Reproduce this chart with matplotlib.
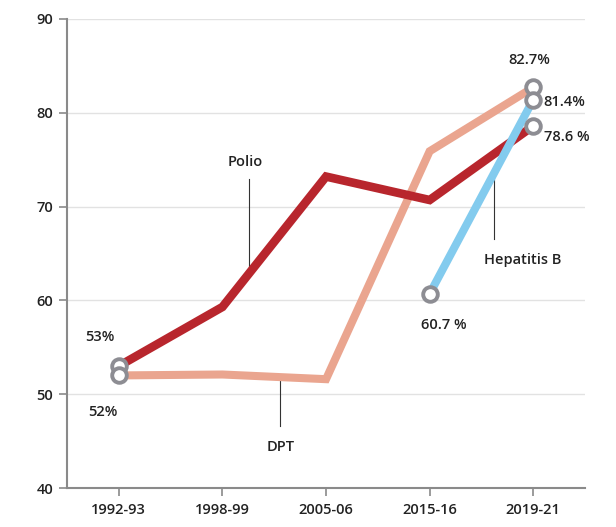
import matplotlib
matplotlib.use("Agg")
import matplotlib.pyplot as plt

# --- DATA ---
periods = ["1992-93", "1998-99", "2005-06", "2015-16", "2019-21"]
polio = [53.0, 59.3, 73.2, 70.7, 78.6]
dpt = [52.0, 52.1, 51.6, 75.9, 82.7]
hepb_periods = ["2015-16", "2019-21"]
hepb = [60.7, 81.4]

# --- STYLE ---
POLIO_COL = "#b8262d"
DPT_COL = "#eaa58f"
HEPB_COL = "#83cbee"
RING_COL = "#8d8d93"
TXT = "#222222"

plt.rcParams["font.family"] = ["Open Sans", "DejaVu Sans"]
plt.rcParams["font.weight"] = "semibold"

fig = plt.figure(figsize=(6.16, 5.27), dpi=100)
ax = fig.add_axes([0.1088, 0.074, 0.841, 0.890])

xpos = {p: i for i, p in enumerate(periods)}
x_all = [xpos[p] for p in periods]
x_hep = [xpos[p] for p in hepb_periods]

# lines
ax.plot(x_all, dpt, color=DPT_COL, lw=5.8, solid_joinstyle="miter", zorder=3)
ax.plot(x_all, polio, color=POLIO_COL, lw=6.2, solid_joinstyle="miter", zorder=4)
ax.plot(x_hep, hepb, color=HEPB_COL, lw=5.8, zorder=5)

# hollow end markers
ring = dict(marker="o", ms=10.5, mfc="white", mec=RING_COL, mew=2.8, ls="none", zorder=6)
ax.plot([x_all[0], x_all[0]], [polio[0], dpt[0]], **ring)
ax.plot([x_all[-1]] * 3, [dpt[-1], hepb[-1], polio[-1]], **ring)
ax.plot([x_hep[0]], [hepb[0]], **ring)

# value labels
fs = 10.5
ax.text(-0.18, 56.1, "53%", ha="center", va="center", fontsize=fs, color=TXT)
ax.text(-0.15, 48.1, "52%", ha="center", va="center", fontsize=fs, color=TXT)
ax.text(3.14, 57.4, "60.7 %", ha="center", va="center", fontsize=fs, color=TXT)
ax.text(3.96, 85.6, "82.7%", ha="center", va="center", fontsize=fs, color=TXT)
ax.text(4.1, 81.15, "81.4%", ha="left", va="center", fontsize=fs, color=TXT)
ax.text(4.1, 77.4, "78.6 %", ha="left", va="center", fontsize=fs, color=TXT)

# series labels with leader lines
lead = dict(color="#333333", lw=0.8, zorder=2)
ax.text(1.22, 74.8, "Polio", ha="center", va="center", fontsize=fs, color=TXT)
ax.plot([1.26, 1.26], [72.9, 63.1], **lead)
ax.text(1.56, 44.4, "DPT", ha="center", va="center", fontsize=fs, color=TXT)
ax.plot([1.56, 1.56], [46.6, 51.7], **lead)
ax.text(3.90, 64.3, "Hepatitis B", ha="center", va="center", fontsize=fs, color=TXT)
ax.plot([3.62, 3.62], [66.5, 73.5], **lead)

# axes
ax.set_xlim(-0.5, 4.5)
ax.set_ylim(40, 90)
ax.set_xticks(x_all)
ax.set_xticklabels(periods)
ax.set_yticks([40, 50, 60, 70, 80, 90])
ax.tick_params(axis="both", labelsize=fs, colors="#8a8a8a", labelcolor=TXT,
               length=6, width=1.2, direction="out")
ax.tick_params(axis="x", pad=5)
ax.tick_params(axis="y", pad=4)
for s in ["top", "right"]:
    ax.spines[s].set_visible(False)
for s in ["left", "bottom"]:
    ax.spines[s].set_color("#8a8a8a")
    ax.spines[s].set_linewidth(1.5)
ax.grid(axis="y", color="#e2e2e2", lw=1.0)
ax.set_axisbelow(True)
ax.patch.set_alpha(0)

fig.savefig("out.png", dpi=100)
